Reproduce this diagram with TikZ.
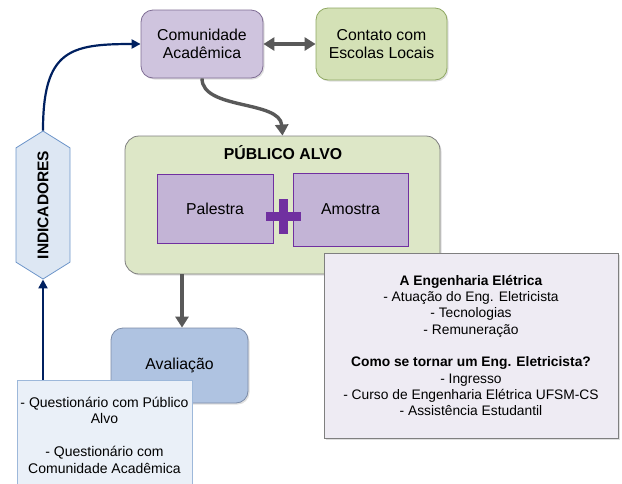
\documentclass[tikz,border=0pt]{standalone}
\usepackage{fontspec}
\setmainfont{Liberation Sans}
\usetikzlibrary{shapes.symbols,arrows.meta,shadows}

\definecolor{comfill}{HTML}{CFC4DE}
\definecolor{comdraw}{HTML}{7F6D94}
\definecolor{escfill}{HTML}{D4E1B6}
\definecolor{escdraw}{HTML}{8FA862}
\definecolor{pubfill}{HTML}{DDE7C7}
\definecolor{boxgray}{HTML}{7F7F7F}
\definecolor{palfill}{HTML}{C3B4D6}
\definecolor{purpleplus}{HTML}{7030A0}
\definecolor{infofill}{HTML}{EEEBF3}
\definecolor{avafill}{HTML}{AFC3E1}
\definecolor{avadraw}{HTML}{7C8CA8}
\definecolor{quefill}{HTML}{EAF0F8}
\definecolor{quedraw}{HTML}{9DB8DA}
\definecolor{indfill}{HTML}{DDE7F3}
\definecolor{inddraw}{HTML}{6E96CA}
\definecolor{navyline}{HTML}{002060}
\definecolor{grayline}{HTML}{595959}

\tikzset{
    softshadow/.style={drop shadow={shadow xshift=1.5pt, shadow yshift=-1.5pt, opacity=0.25}},
    topbox/.style={rounded corners=12pt, line width=0.8pt, align=center, softshadow,
        font=\fontsize{15.8}{18}\selectfont},
    innerbox/.style={fill=palfill, draw=purpleplus, line width=0.6pt,
        font=\fontsize{15.8}{18}\selectfont},
    grayarrow/.style={grayline, line width=3.4pt, -{Triangle[length=11pt,width=13pt]}},
    navyarrow/.style={navyline, line width=2.2pt, -{Triangle[length=9pt,width=9pt]}}
}

\begin{document}
\begin{tikzpicture}[x=1pt,y=-1pt]

    % fixed frame, same size as the original figure
    \useasboundingbox (0,0) rectangle (622,483);

    % Top row
    \node[topbox, fill=comfill, draw=comdraw, minimum width=122pt, minimum height=68pt] (com) at (202,44) {Comunidade\\Acadêmica};
    \node[topbox, fill=escfill, draw=escdraw, minimum width=131pt, minimum height=72pt] (esc) at (381.5,44) {Contato com\\Escolas Locais};

    % Big green box with the two activities
    \node[rounded corners=14pt, fill=pubfill, draw=boxgray, line width=0.8pt, softshadow,
        minimum width=315pt, minimum height=138pt] (pub) at (282.5,205) {};
    \node[font=\bfseries\fontsize{15.8}{18}\selectfont] (pubtitle) at (283,153) {PÚBLICO ALVO};
    \node[innerbox, minimum width=116pt, minimum height=69pt] (pal) at (215,208.5) {Palestra};
    \node[innerbox, minimum width=115pt, minimum height=73pt] (amo) at (350.5,209.5) {Amostra};

    % the plus sign between the boxes
    \fill[purpleplus] (266,211.5) rectangle (301,220.5);
    \fill[purpleplus] (278.5,199) rectangle (287.5,234);

    % Contents of the talk
    \node[fill=infofill, draw=boxgray, line width=0.8pt, softshadow, align=center,
        minimum width=294pt, minimum height=185pt, font=\fontsize{13.8}{16.3}\selectfont] (info) at (471,345.5)
        {\textbf{A Engenharia Elétrica}\\- Atuação do Eng. Eletricista\\- Tecnologias\\- Remuneração\\[16.3pt]
         \textbf{Como se tornar um Eng. Eletricista?}\\- Ingresso\\- Curso de Engenharia Elétrica UFSM-CS\\- Assistência Estudantil};

    % Evaluation
    \node[topbox, fill=avafill, draw=avadraw, minimum width=137pt, minimum height=75pt] (ava) at (179.5,365.5) {Avaliação};
    \node[fill=quefill, draw=quedraw, line width=0.8pt, align=center, minimum width=175pt,
        minimum height=110pt, font=\fontsize{14}{16.5}\selectfont] (que) at (104.5,435)
        {- Questionário com Público\\Alvo\\[16.5pt]- Questionário com\\Comunidade Acadêmica};

    % Indicators (hexagon)
    \node[signal, signal to=east and west, signal pointer angle=116, rotate=90,
        fill=indfill, draw=inddraw, line width=0.8pt, minimum width=148pt, minimum height=54pt,
        inner xsep=1pt, font=\bfseries\fontsize{15.5}{18}\selectfont] (ind) at (43,205) {INDICADORES};

    % Connectors
    \draw[grayline, line width=3.4pt, {Triangle[length=11pt,width=13pt]}-{Triangle[length=11pt,width=13pt]}] (com) -- (esc);
    \draw[grayarrow] (com.south) .. controls (202,110) and (280,100) .. (pub.north);
    \draw[grayarrow] ([xshift=2.5pt]ava.north |- pub.south) -- ([xshift=2.5pt]ava.north);
    \draw[navyarrow] (que.north -| ind) -- (ind.west);
    \draw[navyarrow] (ind.east) .. controls (43,50) and (70,44) .. (com.west);

\end{tikzpicture}
\end{document}
